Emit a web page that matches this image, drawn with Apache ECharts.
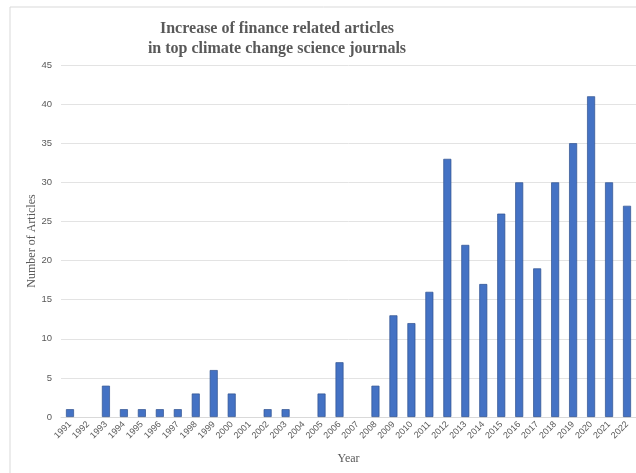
<!DOCTYPE html>
<html><head><meta charset="utf-8">
<script src="https://cdn.jsdelivr.net/npm/echarts@6/dist/echarts.min.js"></script>
<style>html,body{margin:0;padding:0;background:#fff}#c{width:636px;height:473px}</style>
</head><body><div id="c"></div>
<script>
const years = ['1991','1992','1993','1994','1995','1996','1997','1998','1999','2000','2001','2002','2003','2004','2005','2006','2007','2008','2009','2010','2011','2012','2013','2014','2015','2016','2017','2018','2019','2020','2021','2022'];
const articles = [1,0,4,1,1,1,1,3,6,3,0,1,1,0,3,7,0,4,13,12,16,33,22,17,26,30,19,30,35,41,30,27];
const yTicks = {min:0, max:45, interval:5};

const chart = echarts.init(document.getElementById('c'));
chart.setOption({
  animation:false,
  graphic:[{type:'rect', shape:{x:10,y:7,width:700,height:600}, style:{fill:'none', stroke:'#d9d9d9', lineWidth:1}, z:-1}],
  title:{
    text:'Increase of finance related articles\nin top climate change science journals',
    left:272, textAlign:'center', top:14,
    textStyle:{fontFamily:'Liberation Serif', fontWeight:'bold', fontSize:16, color:'#595959', lineHeight:20}
  },
  grid:{left:61, right:0, top:65, bottom:56},
  xAxis:{
    type:'category', data:years,
    name:'Year', nameLocation:'middle', nameGap:36,
    nameTextStyle:{fontFamily:'Liberation Serif', fontSize:12, color:'#595959'},
    axisLine:{lineStyle:{color:'#d9d9d9'}},
    axisTick:{show:false},
    axisLabel:{rotate:45, fontSize:9, color:'#595959', interval:0, fontFamily:'Liberation Sans', margin:6}
  },
  yAxis:{
    type:'value', min:yTicks.min, max:yTicks.max, interval:yTicks.interval,
    name:'Number of Articles', nameLocation:'middle', nameGap:23, nameMoveOverlap:false,
    nameTextStyle:{fontFamily:'Liberation Serif', fontSize:12, color:'#595959'},
    axisLabel:{fontSize:9.5, color:'#595959', fontFamily:'Liberation Sans', margin:9},
    splitLine:{lineStyle:{color:'#e3e3e3'}},
    axisLine:{show:false}, axisTick:{show:false}
  },
  series:[{
    type:'bar', barWidth:8,
    data:articles.map(v => v === 0 ? {value:v, itemStyle:{borderWidth:0}} : v),
    itemStyle:{color:'#4472C4', borderColor:'#2F528F', borderWidth:0.7}
  }]
});
</script></body></html>
